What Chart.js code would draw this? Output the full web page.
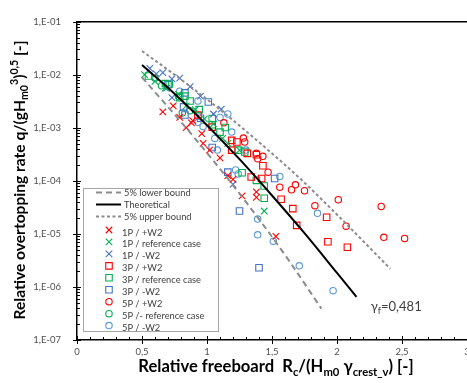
<!DOCTYPE html>
<html><head><meta charset="utf-8">
<script src="https://cdn.jsdelivr.net/npm/chart.js@4.4.1/dist/chart.umd.min.js"></script>
<style>html,body{margin:0;padding:0;background:#fff;overflow:hidden;width:467px;height:383px}#wrap{width:480px;height:383px}</style>
</head><body><div id="wrap"><canvas id="c" width="480" height="383"></canvas></div>
<script>
// ---- tick labels ----
const xTickValues = [0, 0.5, 1, 1.5, 2, 2.5, 3];
const xTickLabels = ['0', '0,5', '1', '1,5', '2', '2,5', '3'];
const yTickValues = [1e-7, 1e-6, 1e-5, 1e-4, 1e-3, 1e-2, 1e-1];
const yTickLabels = ['1,E-07', '1,E-06', '1,E-05', '1,E-04', '1,E-03', '1,E-02', '1,E-01'];

// ---- lines ----
const lowerX = [0.50, 0.79, 1.10, 1.41, 1.64, 1.88];
const lowerY = [8.9e-3, 1.38e-3, 1.68e-4, 1.76e-5, 2.9e-6, 3.9e-7];
const theoX = [0.50, 0.75, 1.00, 1.25, 1.50, 1.75, 2.00, 2.15];
const theoY = [1.52e-2, 4.4e-3, 1.12e-3, 2.56e-4, 5.3e-5, 1.03e-5, 1.84e-6, 6.5e-7];
const upperX = [0.50, 0.79, 1.10, 1.41, 1.72, 2.02, 2.41];
const upperY = [2.8e-2, 8.5e-3, 2.2e-3, 5.1e-4, 1.08e-4, 2.06e-5, 2.2e-6];

// ---- measured points [x, y] ----
const s1P_plusW2 = [[0.74,2.6e-3],[0.79,1.57e-3],[0.88,1.24e-3],[0.96,7.8e-4],[0.97,5.1e-4],[1.02,3.8e-4],[1.10,2.7e-4],[0.89,1.36e-3],[1.16,1.26e-4],[1.20,1.07e-4],[1.27,5.2e-5],[1.38,6.2e-5],[1.38,4.9e-5],[1.53,9.0e-6],[0.66,2.0e-3],[0.84,1.01e-3]];
const s1P_ref = [[0.52,1.01e-2],[0.60,7.5e-3],[0.68,5.6e-3],[0.78,4.25e-3],[0.84,2.6e-3],[0.91,2.2e-3],[0.98,1.47e-3],[1.05,1.19e-3],[1.12,6.3e-4],[1.16,5.1e-4],[1.25,3.8e-4],[1.44,2.7e-5]];
const s1P_minusW2 = [[0.56,1.32e-2],[0.61,1.04e-2],[0.66,1.10e-2],[0.73,8.4e-3],[0.79,8.6e-3],[0.87,6.0e-3],[0.69,5.6e-3],[0.73,3.7e-3],[0.95,3.95e-3],[1.05,1.82e-3],[1.11,2.25e-3],[1.20,8.6e-5]];
const s3P_plusW2 = [[0.93,1.74e-3],[1.04,1.03e-3],[1.19,5.8e-4],[1.23,5.4e-4],[1.19,3.8e-4],[1.31,3.3e-4],[1.38,3.1e-4],[1.43,1.93e-4],[1.34,1.18e-4],[1.42,1.11e-4],[1.57,4.5e-5],[1.66,3.0e-5],[1.92,2.06e-5],[1.69,1.45e-5],[1.93,7.1e-6],[2.08,5.6e-6]];
const s3P_ref = [[0.55,9.5e-3],[0.68,6.8e-3],[0.71,6.7e-3],[0.79,3.7e-3],[0.83,3.95e-3],[0.87,3.2e-3],[0.94,2.2e-3],[1.04,1.5e-3],[1.04,1.14e-3],[1.14,1.01e-3],[1.10,8.3e-4],[1.24,3.8e-4],[1.29,3.5e-4],[1.27,1.42e-4],[1.38,1.02e-4],[1.44,8.0e-5],[1.44,4.7e-5]];
const s3P_minusW2 = [[0.70,6.5e-3],[0.83,4.55e-3],[1.01,3.06e-3],[0.82,2.48e-3],[0.83,1.74e-3],[0.95,1.51e-3],[1.04,4.25e-4],[1.16,1.46e-4],[1.52,1.11e-4],[1.25,2.7e-5],[1.40,2.3e-6]];
const s5P_plusW2 = [[1.13,1.24e-3],[1.28,6.4e-4],[1.29,5.4e-4],[1.38,3.3e-4],[1.43,2.9e-4],[1.39,2.6e-4],[1.47,1.46e-4],[1.56,7.6e-5],[1.65,6.8e-5],[1.68,8.4e-5],[1.75,6.5e-5],[1.83,3.4e-5],[2.01,4.4e-5],[2.07,1.4e-5],[2.34,3.3e-5],[2.36,8.6e-6],[2.52,8.2e-6]];
const s5P_ref = [[0.60,8.6e-3],[0.65,6.2e-3],[0.78,3.95e-3],[0.81,1.9e-3],[0.87,2.1e-3]];
const s5P_minusW2 = [[0.79,4.9e-3],[0.93,3.2e-3],[1.10,1.57e-3],[1.16,1.82e-3],[0.93,1.27e-3],[0.97,1.06e-3],[1.19,8.3e-4],[1.06,6.3e-4],[1.08,3.8e-4],[1.30,3.8e-4],[1.22,1.6e-4],[1.24,1.35e-4],[1.56,1.21e-4],[1.85,2.44e-5],[1.39,1.9e-5],[1.39,9.6e-6],[1.51,7.3e-6],[1.71,2.5e-6],[1.97,8.5e-7]];

const RED = '#ff0000', GREEN = '#00b050', BLUE = '#4472c4', LBLUE = '#5b9bd5';
const FONT = 'Lato, "Open Sans", sans-serif';

const xy = (xs, ys) => xs.map((x, i) => ({x, y: ys[i]}));
const pts = p => p.map(([x, y]) => ({x, y}));
const lineDs = (label, data, color, dash, w) => ({label, data, showLine: true, borderColor: color, borderDash: dash, borderWidth: w, pointRadius: 0, fill: false, cubicInterpolationMode: 'monotone'});
const ptDs = (label, data, color, style, r) => ({label, data, showLine: false, borderColor: color, backgroundColor: 'rgba(0,0,0,0)', pointStyle: style, pointRadius: r, pointBorderWidth: 1.1, pointBorderColor: color, pointBackgroundColor: 'rgba(0,0,0,0)'});

const datasets = [
  lineDs('5% lower bound', xy(lowerX, lowerY), '#8c8c8c', [6, 4], 2),
  lineDs('Theoretical', xy(theoX, theoY), '#000000', [], 2),
  lineDs('5% upper bound', xy(upperX, upperY), '#8c8c8c', [3, 2.5], 2),
  ptDs('1P / +W2', pts(s1P_plusW2), RED, 'crossRot', 4.6),
  ptDs('1P / reference case', pts(s1P_ref), GREEN, 'crossRot', 4.6),
  ptDs('1P / -W2', pts(s1P_minusW2), BLUE, 'crossRot', 4.6),
  ptDs('3P / +W2', pts(s3P_plusW2), RED, 'rect', 4.6),
  ptDs('3P / reference case', pts(s3P_ref), GREEN, 'rect', 4.6),
  ptDs('3P / -W2', pts(s3P_minusW2), BLUE, 'rect', 4.6),
  ptDs('5P / +W2', pts(s5P_plusW2), RED, 'circle', 3.2),
  ptDs('5P /- reference case', pts(s5P_ref), GREEN, 'circle', 3.2),
  ptDs('5P / -W2', pts(s5P_minusW2), LBLUE, 'circle', 3.2)
];

function drawRich(ctx, segs, size, cx, cy, rot) {
  const fontOf = s => (s.w || 'bold') + ' ' + (s.k ? size * 0.68 : size) + 'px ' + FONT;
  let total = 0;
  segs.forEach(s => { ctx.font = fontOf(s); s.width = ctx.measureText(s.t).width; total += s.width; });
  ctx.save();
  ctx.translate(cx, cy);
  if (rot) ctx.rotate(rot);
  let x = -total / 2;
  ctx.textBaseline = 'middle'; ctx.textAlign = 'left';
  segs.forEach(s => {
    ctx.font = fontOf(s);
    const dy = s.k === 'sub' ? size * 0.3 : (s.k === 'sup' ? -size * 0.35 : 0);
    ctx.fillText(s.t, x, dy);
    x += s.width;
  });
  ctx.restore();
}

function drawMarker(ctx, style, x, y, r, color) {
  ctx.save(); ctx.strokeStyle = color; ctx.lineWidth = 1.1; ctx.beginPath();
  if (style === 'crossRot') { const d = r * Math.SQRT1_2; ctx.moveTo(x - d, y - d); ctx.lineTo(x + d, y + d); ctx.moveTo(x - d, y + d); ctx.lineTo(x + d, y - d); }
  else if (style === 'rect') { const d = r * Math.SQRT1_2; ctx.rect(x - d, y - d, 2 * d, 2 * d); }
  else { ctx.arc(x, y, r, 0, Math.PI * 2); }
  ctx.stroke(); ctx.restore();
}

const decor = {
  id: 'decor',
  afterDraw(chart) {
    const {ctx, chartArea: a, scales: {x, y}} = chart;
    ctx.save();
    ctx.strokeStyle = '#000';
    ctx.lineWidth = 1.5;
    ctx.beginPath(); ctx.moveTo(a.left, a.top); ctx.lineTo(a.right, a.top); ctx.stroke();
    ctx.lineWidth = 1;
    ctx.beginPath();
    for (let i = 0; i <= 30; i++) {
      const px = Math.round(x.getPixelForValue(i / 10)) + 0.5;
      if (i % 5 === 0) { ctx.moveTo(px, a.bottom - 4); ctx.lineTo(px, a.bottom + 4); }
      else { ctx.moveTo(px, a.bottom - 3); ctx.lineTo(px, a.bottom); }
    }
    for (let e = -7; e < -1; e++) for (let m = 2; m <= 9; m++) {
      const py = Math.round(y.getPixelForValue(m * Math.pow(10, e))) + 0.5;
      ctx.moveTo(a.left, py); ctx.lineTo(a.left + 3, py);
    }
    yTickValues.forEach(v => { const py = Math.round(y.getPixelForValue(v)) + 0.5; ctx.moveTo(a.left - 4, py); ctx.lineTo(a.left + 4, py); });
    ctx.stroke();

    // legend
    const L = {x: 83.5, y: 188.5, w: 135, h: 143};
    ctx.fillStyle = '#fff'; ctx.fillRect(L.x, L.y, L.w, L.h);
    ctx.strokeStyle = '#a6a6a6'; ctx.lineWidth = 1; ctx.strokeRect(L.x, L.y, L.w, L.h);
    ctx.font = '9.3px ' + FONT; ctx.fillStyle = '#404040'; ctx.textBaseline = 'middle'; ctx.textAlign = 'left';
    chart.data.datasets.forEach((ds, i) => {
      const ry = i < 3 ? 192.5 + i * 12 : 231.5 + (i - 3) * 11.95;
      if (ds.showLine) {
        ctx.save(); ctx.strokeStyle = ds.borderColor; ctx.lineWidth = ds.borderWidth; ctx.setLineDash(ds.borderDash);
        ctx.beginPath(); ctx.moveTo(96, ry); ctx.lineTo(121, ry); ctx.stroke(); ctx.restore();
        ctx.fillText(ds.label, 124, ry);
      } else {
        drawMarker(ctx, ds.pointStyle, 109, ry - 1.5, ds.pointRadius, ds.borderColor);
        ctx.fillText(ds.label, 122, ry + 1);
      }
    });

    // annotation
    ctx.fillStyle = '#404040';
    const ax = x.getPixelForValue(2.26), ay = y.getPixelForValue(4.2e-7);
    ctx.font = '13px ' + FONT; ctx.fillText('\u03b3', ax, ay);
    let w = ctx.measureText('\u03b3').width;
    ctx.font = '9px ' + FONT; ctx.fillText('f', ax + w, ay + 4);
    w += ctx.measureText('f').width;
    ctx.font = '13px ' + FONT; ctx.fillText('=0,481', ax + w, ay);

    // axis titles
    ctx.fillStyle = '#000';
    drawRich(ctx, [{t: 'Relative freeboard  R'}, {t: 'c', k: 'sub'}, {t: '/(H'}, {t: 'm0', k: 'sub'}, {t: ' \u03b3'}, {t: 'crest_v', k: 'sub'}, {t: ') [-]'}], 16.6, 276, 367, 0);
    drawRich(ctx, [{t: 'Relative overtopping rate q/(gH'}, {t: 'm0', k: 'sub'}, {t: '3', k: 'sup'}, {t: ')'}, {t: '0,5', k: 'sup'}, {t: ' [-]'}], 15.6, 20, 180, -Math.PI / 2);
    ctx.restore();
  }
};

new Chart(document.getElementById('c'), {
  type: 'scatter',
  data: {datasets},
  options: {
    responsive: false, animation: false, events: [],
    layout: {padding: {left: 0, top: 13, right: 13, bottom: 0}},
    plugins: {legend: {display: false}, tooltip: {enabled: false}},
    scales: {
      x: {
        type: 'linear', min: 0, max: 3,
        afterBuildTicks: s => { s.ticks = xTickValues.map(v => ({value: v})); },
        afterFit: s => { s.height = 43; },
        grid: {display: false, drawTicks: false},
        border: {display: true, color: '#000', width: 1.5},
        ticks: {callback: (v, i) => xTickLabels[i], color: '#505050', font: {family: FONT, size: 9.5}, padding: 6, maxRotation: 0, autoSkip: false}
      },
      y: {
        type: 'logarithmic', min: 1e-7, max: 1e-1,
        afterBuildTicks: s => { s.ticks = yTickValues.map(v => ({value: v})); },
        afterFit: s => { s.width = 77; },
        grid: {display: false, drawTicks: false},
        border: {display: true, color: '#000', width: 1.5},
        ticks: {callback: (v, i) => yTickLabels[i], color: '#505050', font: {family: FONT, size: 9.5}, padding: 16, autoSkip: false}
      }
    }
  },
  plugins: [decor]
});
</script></body></html>
